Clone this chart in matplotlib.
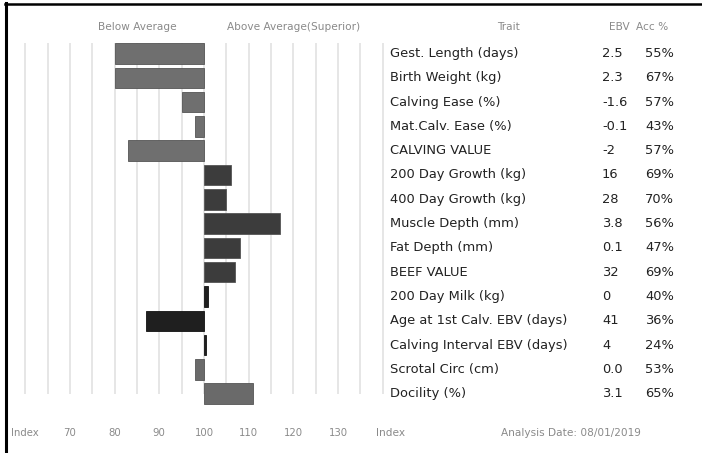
import matplotlib
matplotlib.use("Agg")
import matplotlib.pyplot as plt
import matplotlib.transforms as mtransforms
from matplotlib.lines import Line2D

traits = ["Gest. Length (days)", "Birth Weight (kg)", "Calving Ease (%)", "Mat.Calv. Ease (%)",
          "CALVING VALUE", "200 Day Growth (kg)", "400 Day Growth (kg)", "Muscle Depth (mm)",
          "Fat Depth (mm)", "BEEF VALUE", "200 Day Milk (kg)", "Age at 1st Calv. EBV (days)",
          "Calving Interval EBV (days)", "Scrotal Circ (cm)", "Docility (%)"]
ebv = ["2.5", "2.3", "-1.6", "-0.1", "-2", "16", "28", "3.8", "0.1", "32", "0", "41", "4", "0.0", "3.1"]
acc = ["55%", "67%", "57%", "43%", "57%", "69%", "70%", "56%", "47%", "69%", "40%", "36%", "24%", "53%", "65%"]
index_vals = [80, 80, 95, 98, 83, 106, 105, 117, 108, 107, 101, 87, 100.4, 98, 111]
groups = ["calving"] * 5 + ["growth"] * 5 + ["fertility"] * 3 + ["other"] * 2
group_colors = {"calving": "#6f6f6f", "growth": "#3c3c3c", "fertility": "#1f1f1f", "other": "#6a6a6a"}
grid_vals = list(range(60, 145, 5))
tick_vals = [60, 70, 80, 90, 100, 110, 120, 130]
tick_labels = ["Index", "70", "80", "90", "100", "110", "120", "130"]

W, H = 702, 453
fig = plt.figure(figsize=(W / 100, H / 100), dpi=100)
ax = fig.add_axes([0, 0, 1, 1])

# pixel mapping: value 100 at x=204px, 10 units = 44.7px; row i center at 53.5 + 24.3*i px
ppu = 4.47
x0 = 100 - 204 / ppu
x1 = 100 + (W - 204) / ppu
pitch = 24.3
ytop = -53.5 / pitch
ybot = (H - 53.5) / pitch
ax.set_xlim(x0, x1)
ax.set_ylim(ybot, ytop)
ax.axis("off")

n = len(traits)
bh = 0.84
ax.vlines(grid_vals, -bh / 2, n - 1, colors="#e6e6e6", linewidth=1.4, zorder=1)

for i, (v, g) in enumerate(zip(index_vals, groups)):
    c = group_colors[g]
    ax.barh(i, v - 100, left=100, height=bh, color=c, edgecolor="#555555" if g != "fertility" else "#111111",
            linewidth=0.6, zorder=2)

fx = lambda px: px / W
bt = mtransforms.blended_transform_factory(fig.transFigure, ax.transData)
font = ["DejaVu Sans"]
for i in range(n):
    ax.text(fx(390), i, traits[i], transform=bt, ha="left", va="center", fontsize=9.4,
            color="#222222", family=font)
    ax.text(fx(602), i, ebv[i], transform=bt, ha="left", va="center", fontsize=9.4,
            color="#222222", family=font)
    ax.text(fx(645), i, acc[i], transform=bt, ha="left", va="center", fontsize=9.4,
            color="#222222", family=font)

hdr_y = 1 - 27 / H
small = dict(fontsize=7.6, color="#8a8a8a", va="center", transform=fig.transFigure)
fig.text(fx(137), hdr_y, "Below Average", ha="center", **small)
fig.text(fx(294), hdr_y, "Above Average(Superior)", ha="center", **small)
fig.text(fx(509), hdr_y, "Trait", ha="center", **small)
fig.text(fx(619), hdr_y, "EBV", ha="center", **small)
fig.text(fx(652), hdr_y, "Acc %", ha="center", **small)

tb = mtransforms.blended_transform_factory(ax.transData, fig.transFigure)
bot_y = 1 - 433 / H
for tv, tl in zip(tick_vals, tick_labels):
    ax.text(tv, bot_y, tl, transform=tb, ha="center", va="center", fontsize=7.3, color="#8a8a8a")
fig.text(fx(391), bot_y, "Index", ha="center", **small)
fig.text(fx(571), bot_y, "Analysis Date: 08/01/2019", ha="center", **small)

# border lines
fig.add_artist(Line2D([fx(6), fx(6)], [0, 1 - 3 / H], color="black", linewidth=2.2, transform=fig.transFigure))
fig.add_artist(Line2D([fx(5), 1], [1 - 4 / H, 1 - 4 / H], color="black", linewidth=1.8, transform=fig.transFigure))

fig.savefig("out.png", dpi=100, facecolor="white")
